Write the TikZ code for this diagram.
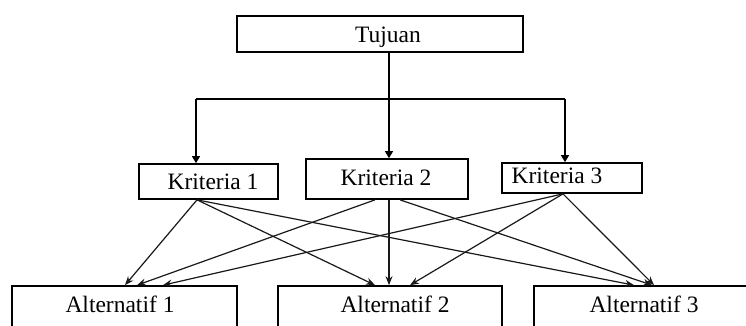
\documentclass[tikz,border=0pt]{standalone}
\usepackage{fontspec}
\setmainfont{Liberation Serif}
\usetikzlibrary{arrows.meta,calc}
\tikzset{
  box/.style={draw=black, line width=1.7pt, rectangle, inner sep=0pt, fill=none},
  lbl/.style={anchor=base, inner sep=0pt, font=\fontsize{23.5}{27}\selectfont},
  link/.style={draw=black!90, line width=1.2pt, -{Stealth[length=9pt,width=7pt]}},
  toparr/.style={draw=black, line width=1.3pt, -{Triangle[length=7pt,width=8pt]}},
  topline/.style={draw=black, line width=1.3pt}
}
\begin{document}
\begin{tikzpicture}[x=1pt,y=-1pt]
\useasboundingbox (0,0) rectangle (746,325);
\clip (0,0) rectangle (746,325);
\fill[white] (0,0) rectangle (746,325);
% boxes
\node[box, minimum width=286pt, minimum height=36pt] (tuj) at (380,34) {};
\node[box, minimum width=139pt, minimum height=35pt] (k1) at (208.5,181.5) {};
\node[box, minimum width=162pt, minimum height=40pt] (k2) at (387,179) {};
\node[box, minimum width=140pt, minimum height=30pt] (k3) at (572,178) {};
\node[box, minimum width=225pt, minimum height=64pt] (a1) at (124.5,318) {};
\node[box, minimum width=224pt, minimum height=64pt] (a2) at (390,318) {};
\node[box, minimum width=266pt, minimum height=64pt] (a3) at (667,318) {};
% labels
\node[lbl] (tujt) at (388,42) {Tujuan};
\node[lbl] (k1t) at (213,189) {Kriteria 1};
\node[lbl] (k2t) at (386,185) {Kriteria 2};
\node[lbl] (k3t) at (557,183) {Kriteria 3};
\node[lbl] (a1t) at (120,312) {Alternatif 1};
\node[lbl] (a2t) at (395,312) {Alternatif 2};
\node[lbl] (a3t) at (644,312) {Alternatif 3};
% top connectors
\coordinate (hl) at (196,99);
\coordinate (hr) at (565,99);
\coordinate (hm) at (389,99);
\draw[topline] (tuj.south -| hm) -- (hm);
\draw[topline] (hl) -- (hr);
\draw[toparr] (hm) -- (k2.north -| hm);
\draw[toparr] (hl) -- (k1.north -| hl);
\draw[toparr] (hr) -- (k3.north -| hr);
% start points
\coordinate (s1) at (k1.south -| 197,0);
\coordinate (s2a) at (k2.south -| 375,0);
\coordinate (s2b) at (k2.south -| 389,0);
\coordinate (s2c) at (k2.south -| 400,0);
\coordinate (s3) at (k3.south -| 563,0);
% end points
\coordinate (e11) at (a1.north -| 125,0);
\coordinate (e21) at (a1.north -| 137,0);
\coordinate (e31) at (a1.north -| 163,0);
\coordinate (e12) at (a2.north -| 375,0);
\coordinate (e22) at (a2.north -| 389,0);
\coordinate (e32) at (a2.north -| 410,0);
\coordinate (e13) at (a3.north -| 634,0);
\coordinate (e23) at (a3.north -| 652,0);
\coordinate (e33) at (a3.north -| 654,0);
% links
\draw[link] (s1) -- (e11);
\draw[link] (s1) -- (e12);
\draw[link] (s1) -- (e13);
\draw[link] (s2a) -- (e21);
\draw[link] (s2b) -- (e22);
\draw[link] (s2c) -- (e23);
\draw[link] (s3) -- (e31);
\draw[link] (s3) -- (e32);
\draw[link] (s3) -- (e33);
\end{tikzpicture}
\end{document}
